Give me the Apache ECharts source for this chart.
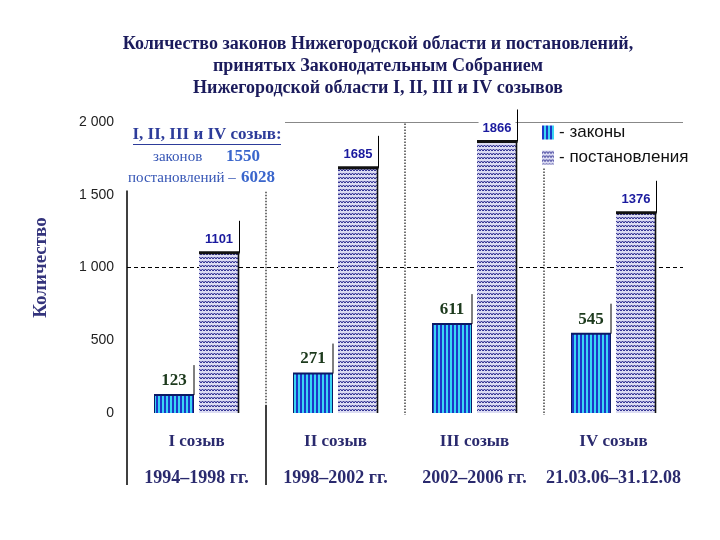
<!DOCTYPE html>
<html>
<head>
<meta charset="utf-8">
<script src="https://cdn.jsdelivr.net/npm/echarts@6/dist/echarts.min.js"></script>
<style>html,body{margin:0;padding:0;background:#fff;}#c{width:720px;height:540px;}</style>
</head>
<body>
<div id="c"></div>
<script>
const categories = ['I созыв', 'II созыв', 'III созыв', 'IV созыв'];
const periods = ['1994–1998 гг.', '1998–2002 гг.', '2002–2006 гг.', '21.03.06–31.12.08'];
const laws = [123, 271, 611, 545];
const resolutions = [1101, 1685, 1866, 1376];
const totalLaws = 1550;
const totalResolutions = 6028;
const seriesNames = ['законы', 'постановления'];
const titleLines = [
  'Количество законов Нижегородской области и постановлений,',
  'принятых Законодательным Собранием',
  'Нижегородской области I, II, III и IV созывов'
];

function makeLawPattern() {
  const c = document.createElement('canvas');
  c.width = 4; c.height = 4;
  const g = c.getContext('2d');
  g.fillStyle = '#1b36c8'; g.fillRect(0, 0, 2, 4);
  g.fillStyle = '#3ad4f4'; g.fillRect(2, 0, 2, 4);
  return c;
}
function makeResPattern() {
  const c = document.createElement('canvas');
  c.width = 6; c.height = 4;
  const g = c.getContext('2d');
  g.fillStyle = '#dcdcf3'; g.fillRect(0, 0, 6, 4);
  g.strokeStyle = '#23238a'; g.lineWidth = 1;
  g.beginPath();
  g.moveTo(0, 3); g.lineTo(1.5, 1); g.lineTo(3, 3); g.lineTo(4.5, 1); g.lineTo(6, 3);
  g.stroke();
  return c;
}
const lawFill = { image: makeLawPattern(), repeat: 'repeat' };
const resFill = { image: makeResPattern(), repeat: 'repeat' };

const chart = echarts.init(document.getElementById('c'), null, { renderer: 'canvas' });

function fmtNum(v) {
  return String(v).replace(/\B(?=(\d{3})+(?!\d))/g, ' ');
}

function renderDecor(params, api) {
  const i = api.value(0);
  const lv = api.value(1), rv = api.value(2);
  const base = api.coord([i, 0]);
  const cx = base[0], y0 = base[1];
  const band = api.size([1, 0])[0];
  const lx = cx - 22.5, rx = cx + 22.5;
  const ly = api.coord([i, lv])[1];
  const ry = api.coord([i, rv])[1];
  const ch = [];
  const L = (x1, y1, x2, y2, stroke, w, dash) => ch.push({
    type: 'line', shape: { x1, y1, x2, y2 },
    style: { stroke, lineWidth: w, lineDash: dash || null }
  });
  // laws bar edges and callout
  L(lx - 20, ly, lx + 20, ly, '#0b1a66', 2);
  L(lx - 19.5, ly, lx - 19.5, y0, '#0b1a66', 1);
  L(lx + 19.5, ly, lx + 19.5, y0, '#0b1a66', 1);
  L(lx + 20, ly, lx + 20, ly - 30, '#000', 1);
  // resolutions bar edges and callout
  L(rx - 20, ry, rx + 20.5, ry, '#111', 3);
  L(rx + 19.5, ry, rx + 19.5, y0, '#111', 1.6);
  L(rx + 20.5, ry, rx + 20.5, ry - 32, '#000', 1);
  // left axis line
  if (i === 0) {
    const ax = cx - band / 2;
    L(ax, api.coord([i, 1530])[1], ax, y0 + 72, '#000', 1.5);
  }
  // separators
  if (i < 3) {
    const sx = cx + band / 2;
    const topVal = i === 0 ? 1520 : (i === 2 ? 1680 : 1990);
    const endY = i === 0 ? y0 - 8 : y0 + 2;
    L(sx, api.coord([i, topVal])[1], sx, endY, '#444', 1.5, [1.5, 1.5]);
    if (i === 0) L(sx, y0 - 8, sx, y0 + 72, '#000', 1.5);
  }
  return { type: 'group', children: ch };
}

const serifN = { fontFamily: 'Liberation Serif', fontSize: 15, color: '#3555b5' };
const serifB = { fontFamily: 'Liberation Serif', fontWeight: 'bold', fontSize: 17, color: '#3a66cc' };

const option = {
  backgroundColor: '#fff',
  animation: false,
  grid: { left: 127, right: 37, top: 122, bottom: 127, containLabel: false },
  legend: {
    orient: 'vertical', left: 537, top: 119,
    icon: 'rect', itemWidth: 12, itemHeight: 14, itemGap: 8,
    formatter: '- {name}',
    textStyle: { fontFamily: 'Liberation Sans', fontSize: 17, color: '#111' },
    data: seriesNames
  },
  xAxis: {
    type: 'category', data: categories,
    axisLine: { show: false }, axisTick: { show: false },
    axisLabel: {
      interval: 0, margin: 10,
      formatter: (v, idx) => '{a|' + v + '}\n{b|' + periods[idx] + '}',
      rich: {
        a: { fontFamily: 'Liberation Serif', fontWeight: 'bold', fontSize: 17, color: '#2a2a6e', lineHeight: 37 },
        b: { fontFamily: 'Liberation Serif', fontWeight: 'bold', fontSize: 18, color: '#2a2a6e', lineHeight: 37 }
      }
    }
  },
  yAxis: [{
    type: 'value', min: 0, max: 2000, interval: 500,
    name: 'Количество', nameLocation: 'middle', nameGap: 76, nameRotate: 90,
    nameTextStyle: { fontFamily: 'Liberation Serif', fontWeight: 'bold', fontSize: 19, color: '#34347c' },
    axisLine: { show: false }, axisTick: { show: false },
    axisLabel: { margin: 13, fontFamily: 'Liberation Sans', fontSize: 14, color: '#222', formatter: fmtNum },
    splitLine: { show: true, lineStyle: { type: [4, 3], width: 1, color: ['transparent', 'transparent', '#000', 'transparent', 'transparent'] } }
  }, {
    type: 'value', min: 0, max: 2000, interval: 2000, position: 'left',
    axisLine: { show: false }, axisTick: { show: false }, axisLabel: { show: false },
    splitLine: { show: true, lineStyle: { width: 1, color: ['transparent', '#888'] } }
  }],
  series: [{
    name: seriesNames[0], type: 'bar', data: laws, barWidth: 40, barGap: '12.5%', z: 2,
    itemStyle: { color: lawFill },
    label: {
      show: true, position: 'top', distance: 5,
      fontFamily: 'Liberation Serif', fontWeight: 'bold', fontSize: 17, color: '#1d3a1d',
      backgroundColor: '#fff', padding: [2, 3, 1, 3]
    }
  }, {
    name: seriesNames[1], type: 'bar', data: resolutions, barWidth: 40, z: 2,
    itemStyle: { color: resFill },
    label: {
      show: true, position: 'top', distance: 5,
      fontFamily: 'Liberation Sans', fontWeight: 'bold', fontSize: 13, color: '#1a1a9e',
      backgroundColor: '#fff', padding: [3, 4, 2, 4]
    }
  }, {
    type: 'custom', name: 'decor', z: 3, silent: true,
    renderItem: renderDecor,
    encode: { x: 0, y: 2 },
    data: categories.map((c, i) => [i, laws[i], resolutions[i]])
  }],
  graphic: [
    { type: 'rect', z: 1, silent: true, shape: { x: 121, y: 112, width: 164, height: 78 }, style: { fill: '#fff' } },
    { type: 'text', z: 10, x: 378, y: 66, style: {
      text: titleLines.join('\n'), font: 'bold 18px "Liberation Serif"', fill: '#1b1b5c',
      textAlign: 'center', textVerticalAlign: 'middle', lineHeight: 22 } },
    { type: 'text', z: 10, x: 207, y: 135, style: {
      text: 'I, II, III и IV созыв:', font: 'bold 17px "Liberation Serif"', fill: '#2d3c9a',
      textAlign: 'center', textVerticalAlign: 'middle' } },
    { type: 'line', z: 10, shape: { x1: 133, y1: 144.5, x2: 281, y2: 144.5 }, style: { stroke: '#2d3c9a', lineWidth: 1 } },
    { type: 'text', z: 10, x: 153, y: 157, style: {
      text: 'законов', font: '15px "Liberation Serif"', fill: serifN.color, textAlign: 'left', textVerticalAlign: 'middle' } },
    { type: 'text', z: 10, x: 226, y: 157, style: {
      text: String(totalLaws), font: 'bold 17px "Liberation Serif"', fill: serifB.color, textAlign: 'left', textVerticalAlign: 'middle' } },
    { type: 'text', z: 10, x: 128, y: 178, style: {
      text: 'постановлений –', font: '15px "Liberation Serif"', fill: serifN.color, textAlign: 'left', textVerticalAlign: 'middle' } },
    { type: 'text', z: 10, x: 241, y: 178, style: {
      text: String(totalResolutions), font: 'bold 17px "Liberation Serif"', fill: serifB.color, textAlign: 'left', textVerticalAlign: 'middle' } }
  ]
};
chart.setOption(option);
</script>
</body>
</html>
